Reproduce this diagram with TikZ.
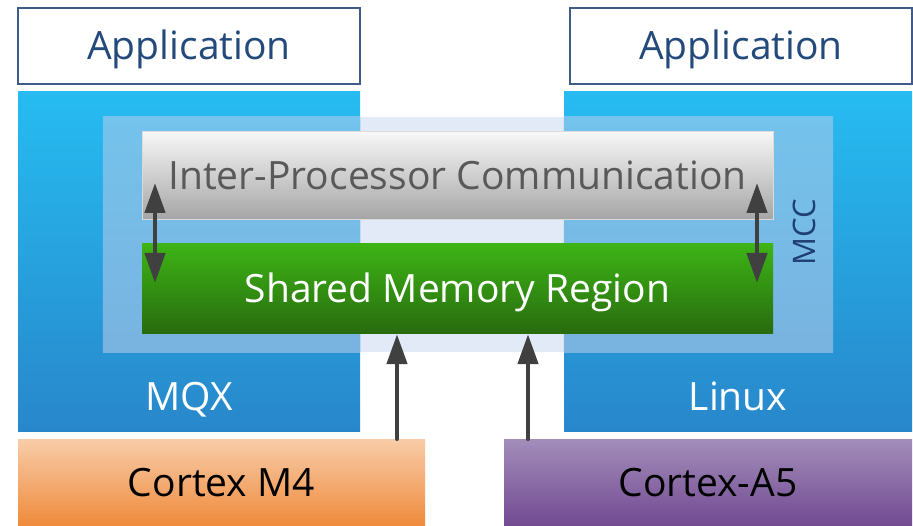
\documentclass[tikz,border=0pt]{standalone}
\usepackage{fontspec}
\setmainfont{Open Sans}
\usetikzlibrary{arrows.meta}
\usetikzlibrary{positioning}

\definecolor{apptext}{HTML}{244A7C}
\definecolor{appframe}{HTML}{3E5C87}
\definecolor{ostop}{HTML}{26BCF1}
\definecolor{osbottom}{HTML}{2887CB}
\definecolor{mccpale}{HTML}{E3EAF7}
\definecolor{mcctop}{HTML}{74C3EC}
\definecolor{mccbottom}{HTML}{79B3E0}
\definecolor{mcctext}{HTML}{1F3F73}
\definecolor{ipctop}{HTML}{F7F7F7}
\definecolor{ipcbottom}{HTML}{A5A5A5}
\definecolor{ipctext}{HTML}{595959}
\definecolor{shmtop}{HTML}{3DB416}
\definecolor{shmbottom}{HTML}{286B0E}
\definecolor{mfourtop}{HTML}{F8CCA9}
\definecolor{mfourbottom}{HTML}{EF8A3A}
\definecolor{afivetop}{HTML}{A28DBA}
\definecolor{afivebottom}{HTML}{724A91}
\definecolor{arrowgray}{HTML}{404040}

\tikzset{
	block/.style={rectangle, inner sep=0pt, font=\fontsize{39}{46}\selectfont,
		text height=28pt, text depth=0pt},
	appbox/.style={block, draw=appframe, line width=1.2pt, fill=white, text=apptext,
		minimum width=342pt, minimum height=76pt},
	osbox/.style={block, top color=ostop, bottom color=osbottom,
		minimum width=#1, minimum height=339pt},
	oslabel/.style={block, text=white, anchor=base},
	ipcbox/.style={block, draw=ipcbottom!40, line width=0.6pt, top color=ipctop,
		bottom color=ipcbottom, text=ipctext, minimum width=631pt, minimum height=88pt},
	shmbox/.style={block, top color=shmtop, bottom color=shmbottom, text=white,
		minimum width=631pt, minimum height=90pt},
	cpubox/.style={block, text=black, minimum height=87pt},
	flow/.style={draw=arrowgray, line width=4.5pt,
		arrows={-Triangle[width=20pt,length=30pt]}},
	twoway/.style={flow, arrows={Triangle[width=20pt,length=30pt]-Triangle[width=20pt,length=30pt]}}
}

\begin{document}
\begin{tikzpicture}[x=1pt, y=-1pt]
	\useasboundingbox (0,0) rectangle (913,526);

	% MCC region behind everything
	\node[block, fill=mccpale, minimum width=730pt, minimum height=235pt] (mcc) at (468,234.5) {};

	% operating systems
	\node[osbox=342pt] (mqx) at (189,261.5) {};
	\node[osbox=348pt] (linux) at (738,261.5) {};
	\shade[top color=mcctop, bottom color=mccbottom] (mcc.north west) rectangle (mqx.east |- mcc.south);
	\shade[top color=mcctop, bottom color=mccbottom] (linux.west |- mcc.north) rectangle (mcc.south east);
	\node[oslabel] (mqxtext) at ([yshift=21pt]mqx.south) {MQX};
	\node[oslabel] (linuxtext) at ([yshift=21pt]linux.south) {Linux};

	% applications
	\node[appbox] (appl) at (189,46) {Application};
	\node[appbox] (appr) at (741,46) {Application};

	% ipc layers
	\node[ipcbox] (ipc) at (457.5,175.5) {Inter-Processor Communication};
	\node[shmbox] (shm) at (457.5,289) {Shared Memory Region};
	\node[block, rotate=90, text=mcctext, font=\fontsize{31}{36}\selectfont, text height=22pt] (mcctag) at (804,232) {MCC};

	% cores
	\node[cpubox, top color=mfourtop, bottom color=mfourbottom, minimum width=407pt] (mfour) at (221.5,482.5) {Cortex M4};
	\node[cpubox, top color=afivetop, bottom color=afivebottom, minimum width=408pt] (afive) at (708,482.5) {Cortex-A5};

	% arrows
	\coordinate (ipcl) at (155,183);
	\coordinate (shml) at (155,283);
	\coordinate (ipcr) at (757,183);
	\coordinate (shmr) at (757,283);
	\coordinate (busl) at (397,0);
	\coordinate (busr) at (528,0);
	\draw[twoway] (ipcl) -- (shml);
	\draw[twoway] (ipcr) -- (shmr);
	\draw[flow, line cap=round] (mfour.north -| busl) -- (shm.south -| busl);
	\draw[flow, line cap=round] (afive.north -| busr) -- (shm.south -| busr);
\end{tikzpicture}
\end{document}
